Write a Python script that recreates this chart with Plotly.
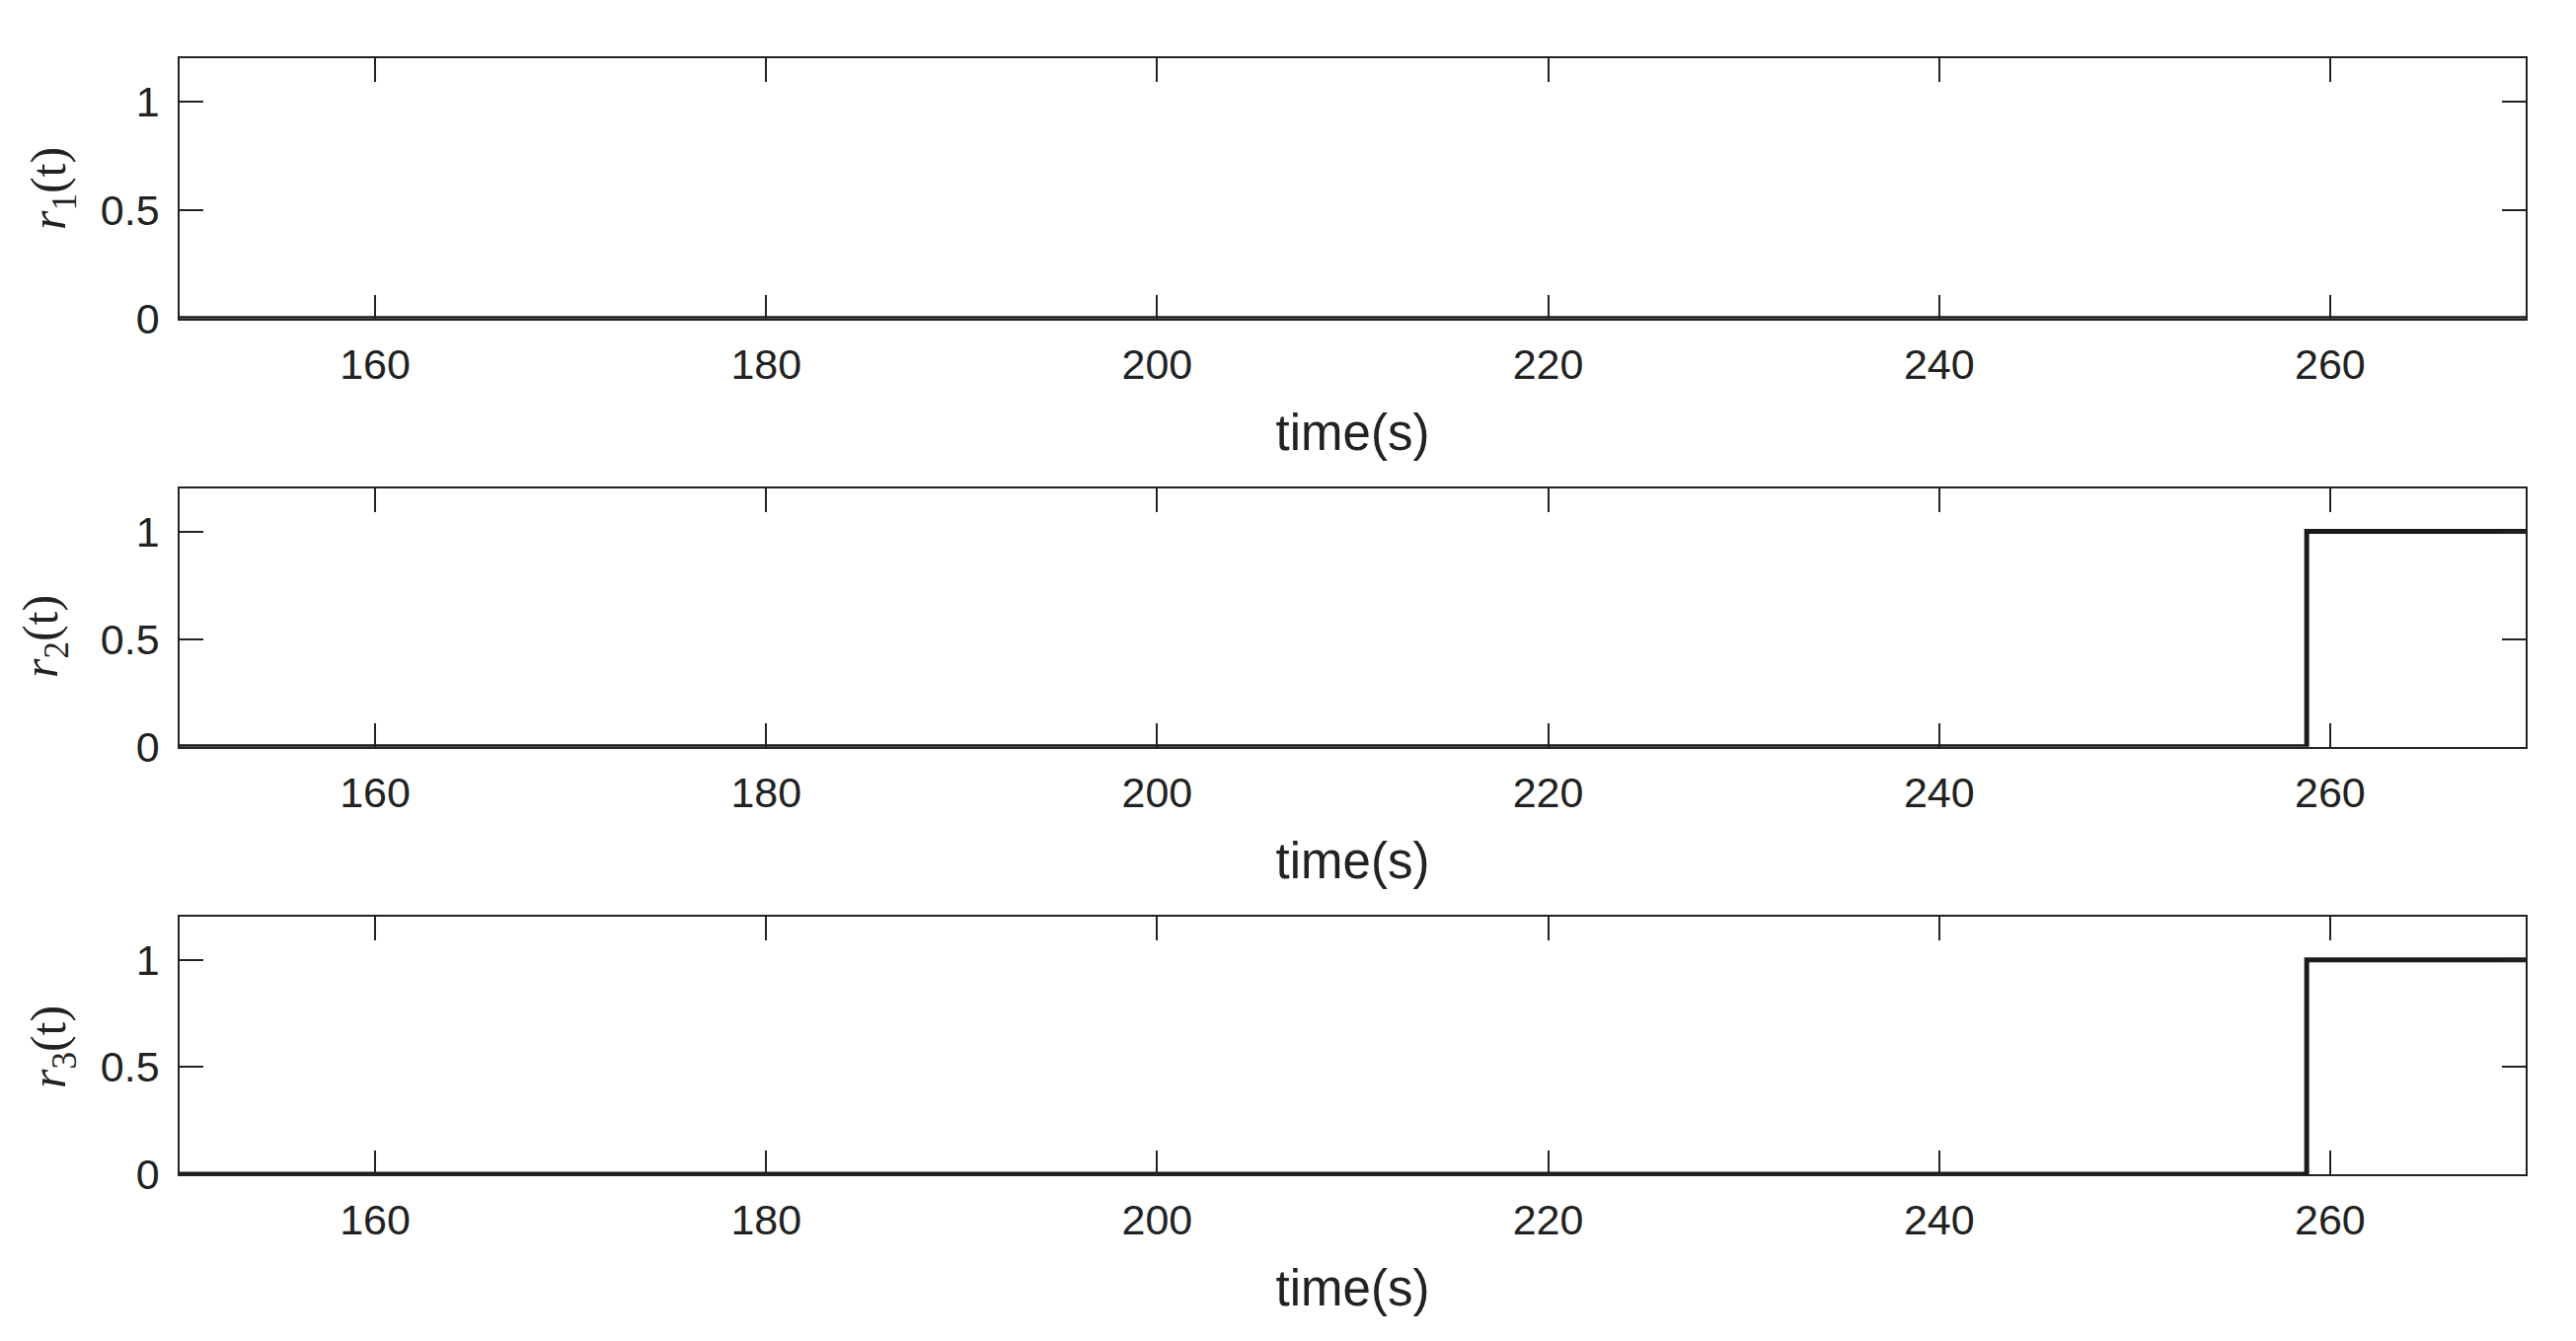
import plotly.graph_objects as go

# Data
time_s = [150, 258.8, 270]
r1 = [0, 0, 0]
r2 = [0, 1, 1]
r3 = [0, 1, 1]
x_ticks = [160, 180, 200, 220, 240, 260]
y_ticks = [0, 0.5, 1]
y_tick_text = ["0", "0.5", "1"]
y_labels = ["<i>r</i><sub>1</sub>(t)", "<i>r</i><sub>2</sub>(t)", "<i>r</i><sub>3</sub>(t)"]
x_label = "time(s)"

W, H = 2610, 1359
OFF = 8  # page body margin
# positions measured in reference pixels
PL, PR, PT, PB = 182, 2559, 59, 1190
L = PL - OFF
T = PT - OFF
R = W - (PR - OFF)
B = H - (PB - OFF)

def py(pix):
    return (PB - pix) / (PB - PT)

def px(pix):
    return (pix - PL) / (PR - PL)

panels = [(59, 322.7), (495, 756.7), (929.3, 1190)]
label_centers_y = [191, 645, 1061]
label_centers_x = [53, 45, 53]

AX = "#222222"
tick_font = dict(family="Liberation Sans, Arial, sans-serif", size=43, color=AX)

fig = go.Figure()
series = [r1, r2, r3]
for i, s in enumerate(series):
    n = "" if i == 0 else str(i + 1)
    fig.add_trace(go.Scatter(
        x=time_s, y=s, mode="lines", line=dict(color="#1a1a1a", width=5, shape="hv"),
        xaxis="x" + n, yaxis="y" + n, showlegend=False, cliponaxis=False,
    ))

layout = dict(
    width=W, height=H,
    margin=dict(l=L, r=R, t=T, b=B, pad=0),
    paper_bgcolor="white", plot_bgcolor="white",
    showlegend=False,
    annotations=[],
)
for i, (top, bot) in enumerate(panels):
    n = "" if i == 0 else str(i + 1)
    layout["xaxis" + n] = dict(
        domain=[0, 1], range=[150, 270], anchor="y" + n,
        tickmode="array", tickvals=x_ticks, ticktext=[str(v) for v in x_ticks],
        ticks="inside", ticklen=24, tickwidth=1.5, tickcolor=AX,
        showline=True, linecolor=AX, linewidth=1.5, mirror="ticks",
        showgrid=False, zeroline=False, tickfont=tick_font,
        ticklabelstandoff=8,
        title=dict(text=x_label, font=dict(family="Liberation Sans, Arial, sans-serif", size=51, color=AX), standoff=28),
    )
    layout["yaxis" + n] = dict(
        domain=[py(bot), py(top)], range=[0, 1.2], anchor="x" + n,
        tickmode="array", tickvals=y_ticks, ticktext=y_tick_text,
        ticks="inside", ticklen=24, tickwidth=1.5, tickcolor=AX,
        showline=True, linecolor=AX, linewidth=1.5, mirror="ticks",
        showgrid=False, zeroline=False, tickfont=tick_font,
        ticklabelstandoff=10,
    )
    layout["annotations"].append(dict(
        text=y_labels[i], xref="paper", yref="paper",
        x=px(label_centers_x[i]), y=py(label_centers_y[i]),
        xanchor="center", yanchor="middle", textangle=-90, showarrow=False,
        font=dict(family="Liberation Serif, Times New Roman, serif", size=50, color=AX),
    ))

fig.update_layout(**layout)
fig.write_html("out.html")
